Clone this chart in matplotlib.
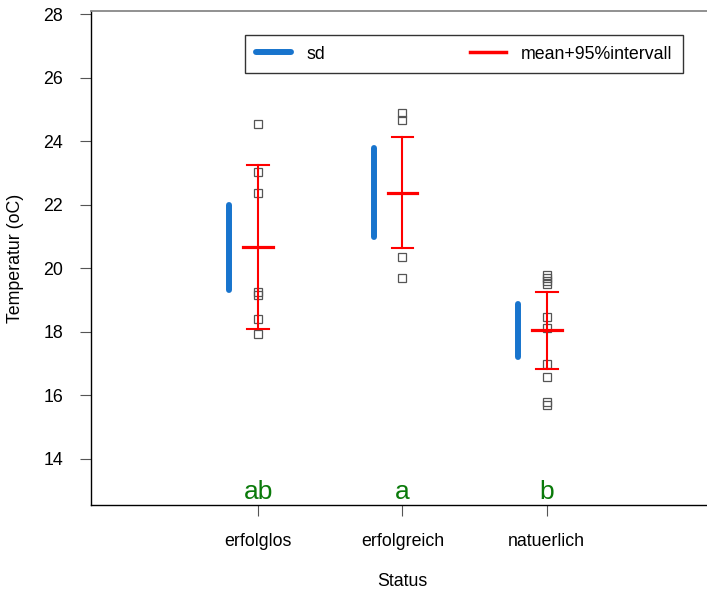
import matplotlib
matplotlib.use("Agg")
import matplotlib.pyplot as plt
from matplotlib.lines import Line2D

plt.rcParams['font.family'] = ['Liberation Sans', 'DejaVu Sans']

categories = ['erfolglos', 'erfolgreich', 'natuerlich']
g_erfolglos = [24.54, 23.05, 22.37, 19.27, 19.17, 18.40, 17.93]
g_erfolgreich = [24.91, 24.67, 20.35, 19.69]
g_natuerlich = [19.80, 19.70, 19.62, 19.51, 18.46, 18.14, 16.99, 16.59, 15.81, 15.70]
groups = [g_erfolglos, g_erfolgreich, g_natuerlich]
means = [20.69, 22.37, 18.05]
ci_lo = [18.08, 20.65, 16.83]
ci_hi = [23.26, 24.13, 19.25]
sd_lo = [19.32, 21.00, 17.22]
sd_hi = [22.00, 23.79, 18.87]
letters = ['ab', 'a', 'b']
yticks = [14, 16, 18, 20, 22, 24, 26, 28]

fig = plt.figure(figsize=(7.07, 5.89), dpi=100)
ax = fig.add_axes([91/707, 1-505/589, (714-91)/707, (505-11)/589])
ax.set_xlim(-0.16, 4.16)
ax.set_ylim(12.55, 28.11)

blue = '#1874CD'
red = '#FF0000'
for i, (pts, m, lo, hi, slo, shi, lt) in enumerate(zip(groups, means, ci_lo, ci_hi, sd_lo, sd_hi, letters)):
    x = i + 1
    ax.plot([x]*len(pts), pts, linestyle='none', marker='s', markersize=5.5,
            markerfacecolor='none', markeredgecolor='#555555', markeredgewidth=0.9, zorder=2)
    ax.plot([x - 0.2, x - 0.2], [slo, shi], color=blue, lw=4.3, solid_capstyle='round', zorder=3)
    ax.plot([x, x], [lo, hi], color=red, lw=1.5, zorder=4)
    ax.plot([x - 0.076, x + 0.076], [lo, lo], color=red, lw=1.5, zorder=4)
    ax.plot([x - 0.076, x + 0.076], [hi, hi], color=red, lw=1.5, zorder=4)
    ax.plot([x - 0.104, x + 0.104], [m, m], color=red, lw=2.3, zorder=4)
    ax.text(x, 12.97, lt, color='#0A7A0A', fontsize=19, ha='center', va='center')

ax.set_xticks([1, 2, 3])
ax.set_xticklabels(categories, fontsize=12.8)
ax.set_yticks(yticks)
ax.set_yticklabels([str(v) for v in yticks], fontsize=12.8)
ax.tick_params(axis='x', length=8, width=0.8, color='#555555', pad=12)
ax.tick_params(axis='y', length=8, width=0.8, color='#555555', pad=12)
ax.set_xlabel('Status', fontsize=12.8, labelpad=17)
ax.set_ylabel('Temperatur (oC)', fontsize=12.8, labelpad=14)

for s in ['left', 'bottom']:
    ax.spines[s].set_color('black')
    ax.spines[s].set_linewidth(1.0)
ax.spines['top'].set_color('#888888')
ax.spines['top'].set_linewidth(1.3)
ax.spines['right'].set_visible(False)

handles = [Line2D([], [], color=blue, lw=4.3, solid_capstyle='round'),
           Line2D([], [], color=red, lw=2.5)]
x0 = (245-91)/623
x1 = (683-91)/623
y1 = (505-35)/494
y0 = (505-77)/494
leg = ax.legend(handles, ['sd', 'mean+95%intervall'], ncol=2, mode='expand',
                loc='upper left', bbox_to_anchor=(x0, y0, x1-x0, y1-y0),
                fontsize=12.8, frameon=True, fancybox=False, borderpad=0.6,
                handlelength=2.0, handletextpad=0.85, borderaxespad=0,
                edgecolor='black')
leg.get_frame().set_linewidth(1.0)
leg._legend_box.pad = leg._legend_box.pad  # keep defaults

fig.savefig('out.png', dpi=100)
